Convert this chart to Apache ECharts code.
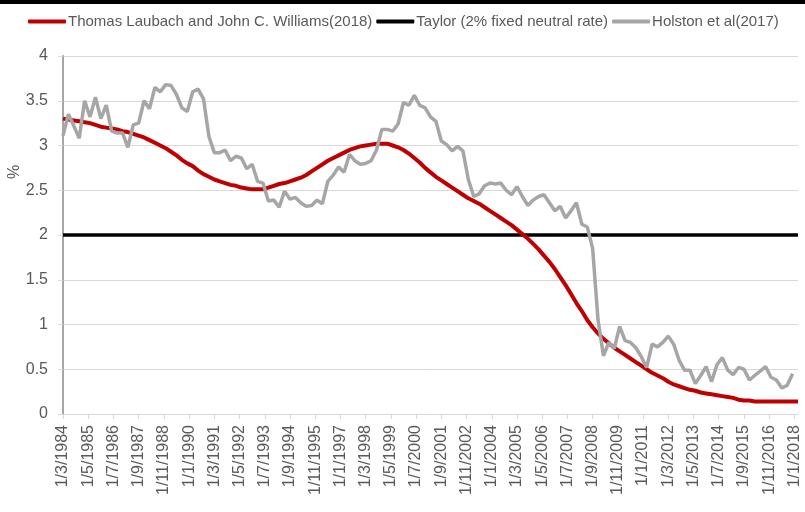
<!DOCTYPE html>
<html>
<head>
<meta charset="utf-8">
<script src="https://cdn.jsdelivr.net/npm/echarts@6/dist/echarts.min.js"></script>
<style>
  html, body { margin: 0; padding: 0; background: #fff; }
  #chart { width: 805px; height: 512px; }
</style>
</head>
<body>
<div id="chart"></div>
<script>
// quarterly data, first point is 1/3/1984, one point every 3 months
const laubachWilliams = [
  3.30, 3.29, 3.28, 3.27, 3.26, 3.25, 3.23, 3.21, 3.20, 3.19,
  3.18, 3.16, 3.15, 3.13, 3.11, 3.09, 3.06, 3.03, 3.00, 2.97,
  2.93, 2.89, 2.84, 2.80, 2.77, 2.72, 2.68, 2.65, 2.62, 2.60,
  2.58, 2.56, 2.55, 2.53, 2.52, 2.51, 2.51, 2.51, 2.53, 2.55,
  2.57, 2.58, 2.60, 2.62, 2.64, 2.67, 2.71, 2.75, 2.79, 2.83,
  2.86, 2.89, 2.92, 2.95, 2.97, 2.99, 3.00, 3.01, 3.02, 3.02,
  3.02, 3.00, 2.98, 2.95, 2.91, 2.86, 2.81, 2.75, 2.70, 2.65,
  2.61, 2.57, 2.53, 2.49, 2.45, 2.41, 2.38, 2.35, 2.31, 2.27,
  2.23, 2.19, 2.15, 2.11, 2.06, 2.01, 1.96, 1.90, 1.84, 1.77,
  1.70, 1.62, 1.53, 1.44, 1.34, 1.24, 1.15, 1.05, 0.97, 0.90,
  0.84, 0.79, 0.74, 0.70, 0.66, 0.62, 0.58, 0.54, 0.50, 0.46,
  0.43, 0.40, 0.36, 0.33, 0.31, 0.29, 0.27, 0.26, 0.24, 0.23,
  0.22, 0.21, 0.20, 0.19, 0.18, 0.16, 0.15, 0.15, 0.14, 0.14,
  0.14, 0.14, 0.14, 0.14, 0.14, 0.14, 0.14
];
const holston = [
  3.11, 3.35, 3.22, 3.08, 3.50, 3.32, 3.54, 3.30, 3.45, 3.16,
  3.14, 3.14, 2.98, 3.23, 3.25, 3.50, 3.41, 3.65, 3.60, 3.68,
  3.67, 3.57, 3.42, 3.38, 3.60, 3.63, 3.52, 3.10, 2.92, 2.92,
  2.95, 2.83, 2.88, 2.86, 2.74, 2.79, 2.60, 2.58, 2.38, 2.39,
  2.31, 2.49, 2.40, 2.42, 2.36, 2.32, 2.33, 2.39, 2.35, 2.60,
  2.67, 2.76, 2.70, 2.90, 2.83, 2.79, 2.80, 2.83, 2.95, 3.18,
  3.18, 3.16, 3.24, 3.48, 3.45, 3.56, 3.45, 3.42, 3.32, 3.27,
  3.05, 3.01, 2.94, 2.99, 2.94, 2.62, 2.43, 2.46, 2.55, 2.58,
  2.57, 2.58, 2.50, 2.45, 2.54, 2.43, 2.33, 2.39, 2.43, 2.45,
  2.36, 2.27, 2.32, 2.19, 2.27, 2.36, 2.12, 2.09, 1.85, 1.05,
  0.65, 0.80, 0.73, 0.98, 0.82, 0.80, 0.74, 0.64, 0.52, 0.78,
  0.75, 0.80, 0.87, 0.78, 0.60, 0.49, 0.49, 0.34, 0.43, 0.53,
  0.36, 0.55, 0.63, 0.49, 0.44, 0.52, 0.50, 0.38, 0.43, 0.48,
  0.53, 0.41, 0.38, 0.29, 0.32, 0.45
];
// Taylor rule: fixed 2% over whole range (months from 1/3/1984)
const taylorMonths = [0, 408];
const taylorValues = [2, 2];

// x axis tick labels, one every 14 months
const xLabels = [
  '1/3/1984', '1/5/1985', '1/7/1986', '1/9/1987', '1/11/1988', '1/1/1990',
  '1/3/1991', '1/5/1992', '1/7/1993', '1/9/1994', '1/11/1995', '1/1/1997',
  '1/3/1998', '1/5/1999', '1/7/2000', '1/9/2001', '1/11/2002', '1/1/2004',
  '1/3/2005', '1/5/2006', '1/7/2007', '1/9/2008', '1/11/2009', '1/1/2011',
  '1/3/2012', '1/5/2013', '1/7/2014', '1/9/2015', '1/11/2016', '1/1/2018'
];
const seriesNames = [
  'Thomas Laubach and John C. Williams(2018)',
  'Taylor (2% fixed neutral rate)',
  'Holston et al(2017)'
];

const FONT = 'Liberation Sans';
const TEXT_COLOR = '#595959';

const chart = echarts.init(document.getElementById('chart'));

const option = {
  animation: false,
  textStyle: { fontFamily: FONT },
  grid: { left: 63, right: 7, top: 56, bottom: 98 },
  legend: {
    left: 23,
    top: 9,
    itemGap: 4,
    itemWidth: 38,
    itemHeight: 4,
    icon: 'roundRect',
    textStyle: { color: TEXT_COLOR, fontSize: 15, fontFamily: FONT, padding: [0, 0, 0, -3] },
    data: seriesNames
  },
  graphic: [
    { type: 'rect', shape: { x: 0, y: 0, width: 805, height: 4 }, style: { fill: '#000' } },
    {
      type: 'text', x: 15, y: 172, rotation: Math.PI / 2,
      style: { text: '%', fill: TEXT_COLOR, font: '16px ' + FONT, align: 'center', verticalAlign: 'middle' }
    }
  ],
  xAxis: {
    type: 'value',
    min: 0,
    max: 408,
    interval: 14,
    splitLine: { show: false },
    axisLine: { lineStyle: { color: '#D9D9D9', width: 1 } },
    axisTick: { show: true, length: 5, lineStyle: { color: '#D9D9D9' } },
    axisLabel: {
      rotate: 90,
      color: TEXT_COLOR,
      fontSize: 16,
      margin: 11,
      showMaxLabel: false,
      formatter: function (v) {
        return v % 14 === 0 ? xLabels[v / 14] : '';
      }
    }
  },
  yAxis: {
    type: 'value',
    min: 0,
    max: 4,
    interval: 0.5,
    axisLine: { show: true, lineStyle: { color: '#A6A6A6', width: 2 } },
    axisTick: { show: true, length: 5, lineStyle: { color: '#D9D9D9' } },
    splitLine: { lineStyle: { color: '#D9D9D9', width: 1 } },
    axisLabel: { color: TEXT_COLOR, fontSize: 16, margin: 15 }
  },
  series: [
    {
      name: seriesNames[0],
      type: 'line',
      showSymbol: false,
      z: 3,
      lineStyle: { color: '#C00000', width: 4 },
      itemStyle: { color: '#C00000' },
      data: laubachWilliams.map((v, i) => [i * 3, v])
    },
    {
      name: seriesNames[1],
      type: 'line',
      showSymbol: false,
      z: 2,
      lineStyle: { color: '#000000', width: 3.5 },
      itemStyle: { color: '#000000' },
      data: taylorMonths.map((m, i) => [m, taylorValues[i]])
    },
    {
      name: seriesNames[2],
      type: 'line',
      showSymbol: false,
      z: 4,
      lineStyle: { color: '#A6A6A6', width: 3.5 },
      itemStyle: { color: '#A6A6A6' },
      data: holston.map((v, i) => [i * 3, v])
    }
  ]
};

chart.setOption(option);
</script>
</body>
</html>
